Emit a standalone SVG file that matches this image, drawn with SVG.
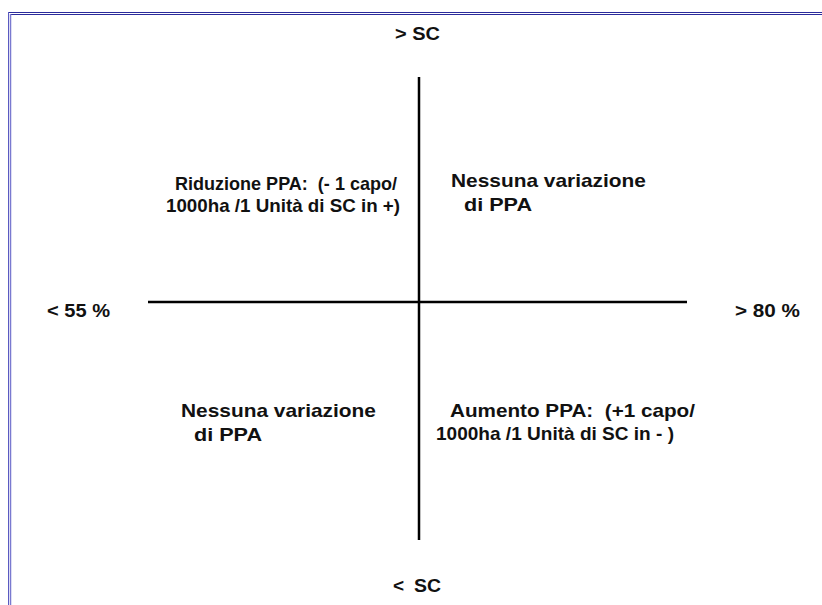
<svg xmlns="http://www.w3.org/2000/svg" width="822" height="605" viewBox="0 0 822 605">
<style>
text{font-family:"Liberation Sans",Arial,sans-serif;font-weight:bold;fill:#111;}
.t{font-size:19px;}
.n{font-size:19px;}
.a{font-size:19px;}
.ax{stroke:#000;stroke-width:2.5;fill:none;}
</style>
<rect width="822" height="605" fill="#fff"/>
<g id="frame">
<line x1="8" y1="12.5" x2="822" y2="12.5" stroke="#2b2b9c" stroke-width="1"/>
<line x1="10" y1="14.5" x2="822" y2="14.5" stroke="#2b2b9c" stroke-width="1"/>
<line x1="8.5" y1="12" x2="8.5" y2="605" stroke="#5a5ac0" stroke-width="1"/>
<line x1="10.5" y1="14" x2="10.5" y2="605" stroke="#7a7ad0" stroke-width="1.5"/>
</g>
<g id="connectors">
<line class="ax" x1="419" y1="77" x2="419" y2="540"/>
<line class="ax" x1="148" y1="302" x2="687" y2="302"/>
</g>
<g id="top-label"><text class="a" x="395" y="40" textLength="45" lengthAdjust="spacingAndGlyphs">&gt; SC</text></g>
<g id="bottom-label"><text class="a" x="393" y="592">&lt;</text><text class="a" x="414" y="592" textLength="27" lengthAdjust="spacingAndGlyphs">SC</text></g>
<g id="left-label"><text class="a" x="47" y="317" textLength="63" lengthAdjust="spacingAndGlyphs">&lt; 55 %</text></g>
<g id="right-label"><text class="a" x="735" y="317" textLength="65" lengthAdjust="spacingAndGlyphs">&gt; 80 %</text></g>
<g id="q-top-left">
<text class="t" x="175" y="190" textLength="222" lengthAdjust="spacingAndGlyphs" xml:space="preserve">Riduzione PPA:  (- 1 capo/</text>
<text class="t" x="166" y="212" textLength="234" lengthAdjust="spacingAndGlyphs">1000ha /1 Unità di SC in +)</text>
</g>
<g id="q-top-right">
<text class="n" x="451" y="187" textLength="195" lengthAdjust="spacingAndGlyphs">Nessuna variazione</text>
<text class="n" x="464" y="211" textLength="68" lengthAdjust="spacingAndGlyphs">di PPA</text>
</g>
<g id="q-bottom-left">
<text class="n" x="181" y="417" textLength="195" lengthAdjust="spacingAndGlyphs">Nessuna variazione</text>
<text class="n" x="194" y="441" textLength="68" lengthAdjust="spacingAndGlyphs">di PPA</text>
</g>
<g id="q-bottom-right">
<text class="t" x="450" y="417" textLength="245" lengthAdjust="spacingAndGlyphs" xml:space="preserve">Aumento PPA:  (+1 capo/</text>
<text class="t" x="436" y="440" textLength="238" lengthAdjust="spacingAndGlyphs">1000ha /1 Unità di SC in - )</text>
</g>
</svg>
